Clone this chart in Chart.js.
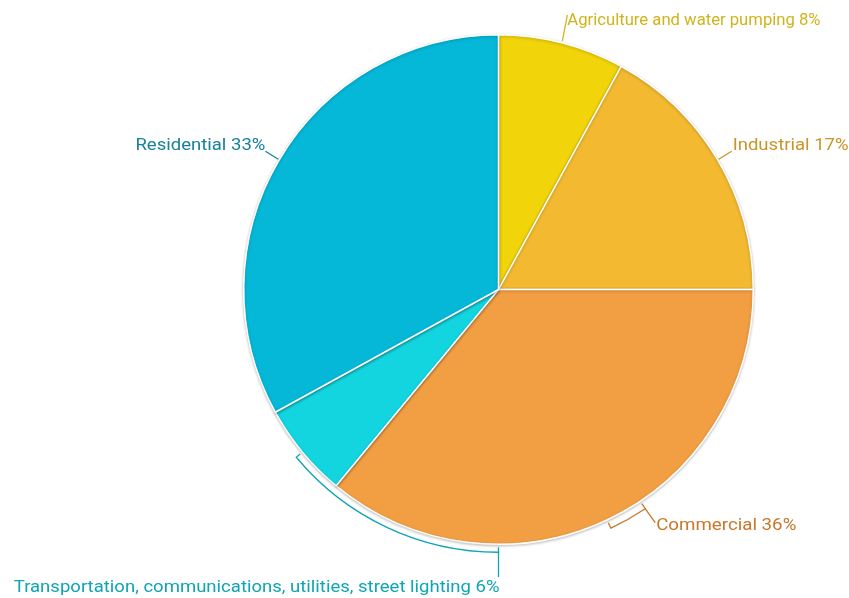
<!DOCTYPE html>
<html><head><meta charset="utf-8">
<script src="https://cdn.jsdelivr.net/npm/chart.js@4.4.0/dist/chart.umd.min.js"></script>
<style>html,body{margin:0;padding:0;background:#fff}#wrap{width:849px;height:598px}</style>
</head><body><div id="wrap"><canvas id="c" width="849" height="598"></canvas></div>
<script>
const categories = ['Agriculture and water pumping','Industrial','Commercial','Transportation, communications, utilities, street lighting','Residential'];
const values = [8,17,36,6,33];
const colors = ['#F2D40A','#F2B931','#F29F43','#12D5E0','#05B8D8'];
const textColors = ['#D0B41C','#C8952A','#C9772B','#0FA5B4','#17819C'];

function drawText(ctx, txt, x, y, align, sx){
  ctx.save();
  ctx.translate(x, y);
  ctx.scale(sx, 1);
  ctx.textAlign = align;
  ctx.fillText(txt, 0, 0);
  ctx.restore();
}

const labelPlugin = {
  id:'calloutLabels',
  afterDatasetsDraw(chart){
    const ctx = chart.ctx;
    const meta = chart.getDatasetMeta(0);
    const a0 = meta.data[0];
    const cx = a0.x, cy = a0.y, R = a0.outerRadius;
    const pt = (ang, r) => [cx + Math.cos(ang)*r, cy + Math.sin(ang)*r];
    ctx.save();
    ctx.font = '17px Roboto, "Noto Sans", sans-serif';
    ctx.textBaseline = 'middle';
    ctx.lineWidth = 1.3;
    meta.data.forEach((arc, i) => {
      const txt = categories[i] + ' ' + values[i] + '%';
      const mid = (arc.startAngle + arc.endAngle)/2;
      ctx.strokeStyle = textColors[i];
      ctx.fillStyle = textColors[i];
      if (i === 0) {
        const p = pt(mid, R+2);
        ctx.beginPath(); ctx.moveTo(p[0], p[1]); ctx.lineTo(p[0]+5, 15); ctx.stroke();
        drawText(ctx, txt, p[0]+5, 21, 'left', 0.98);
      } else if (i === 1) {
        const p = pt(mid, R+1);
        ctx.beginPath(); ctx.moveTo(p[0], p[1]); ctx.lineTo(p[0]+13, p[1]-8); ctx.stroke();
        drawText(ctx, txt, p[0]+14, 146, 'left', 1.09);
      } else if (i === 4) {
        const p = pt(mid, R+1);
        ctx.beginPath(); ctx.moveTo(p[0], p[1]); ctx.lineTo(p[0]-13, p[1]-8); ctx.stroke();
        drawText(ctx, txt, p[0]-13, 146, 'right', 1.09);
      } else if (i === 2) {
        const s = mid - 0.15, e = mid;
        const r1 = R+3, r2 = R+9;
        const ps = pt(s, r1), pe = pt(e, r1);
        ctx.beginPath();
        ctx.moveTo(ps[0], ps[1]);
        ctx.arc(cx, cy, r2, s, e);
        ctx.lineTo(pe[0], pe[1]);
        ctx.stroke();
        const pm = pt(s, r2);
        ctx.beginPath(); ctx.moveTo(pm[0], pm[1]); ctx.lineTo(pm[0]+10, pm[1]+14); ctx.stroke();
        drawText(ctx, txt, pm[0]+11, 526, 'left', 1.1);
      } else if (i === 3) {
        const s = Math.PI/2, e = arc.endAngle - 0.19;
        const r1 = R+3, r2 = R+8;
        const ps = pt(s, r1), pe = pt(e, r1);
        ctx.beginPath();
        ctx.moveTo(ps[0], ps[1]);
        ctx.arc(cx, cy, r2, s, e);
        ctx.lineTo(pe[0], pe[1]);
        ctx.stroke();
        const pm = pt(s, r2);
        ctx.beginPath(); ctx.moveTo(pm[0], pm[1]); ctx.lineTo(pm[0], 577); ctx.stroke();
        drawText(ctx, txt, pm[0]+1, 588, 'right', 1.09);
      }
    });
    ctx.restore();
  }
};

const shadowPlugin = {
  id:'shadow',
  beforeDatasetsDraw(chart){ const c=chart.ctx; c.save(); c.shadowColor='rgba(0,0,0,0.25)'; c.shadowBlur=3; c.shadowOffsetX=0; c.shadowOffsetY=1; },
  afterDatasetsDraw(chart){ chart.ctx.restore(); }
};

new Chart(document.getElementById('c'), {
  type:'pie',
  data:{ labels:categories, datasets:[{ data:values, backgroundColor:colors, borderColor:'#ffffff', borderWidth:1.5 }] },
  options:{
    responsive:false, animation:false,
    layout:{ padding:{ top:34, bottom:53, left:243, right:95 } },
    plugins:{ legend:{display:false}, tooltip:{enabled:false} }
  },
  plugins:[shadowPlugin, labelPlugin]
});
</script></body></html>
